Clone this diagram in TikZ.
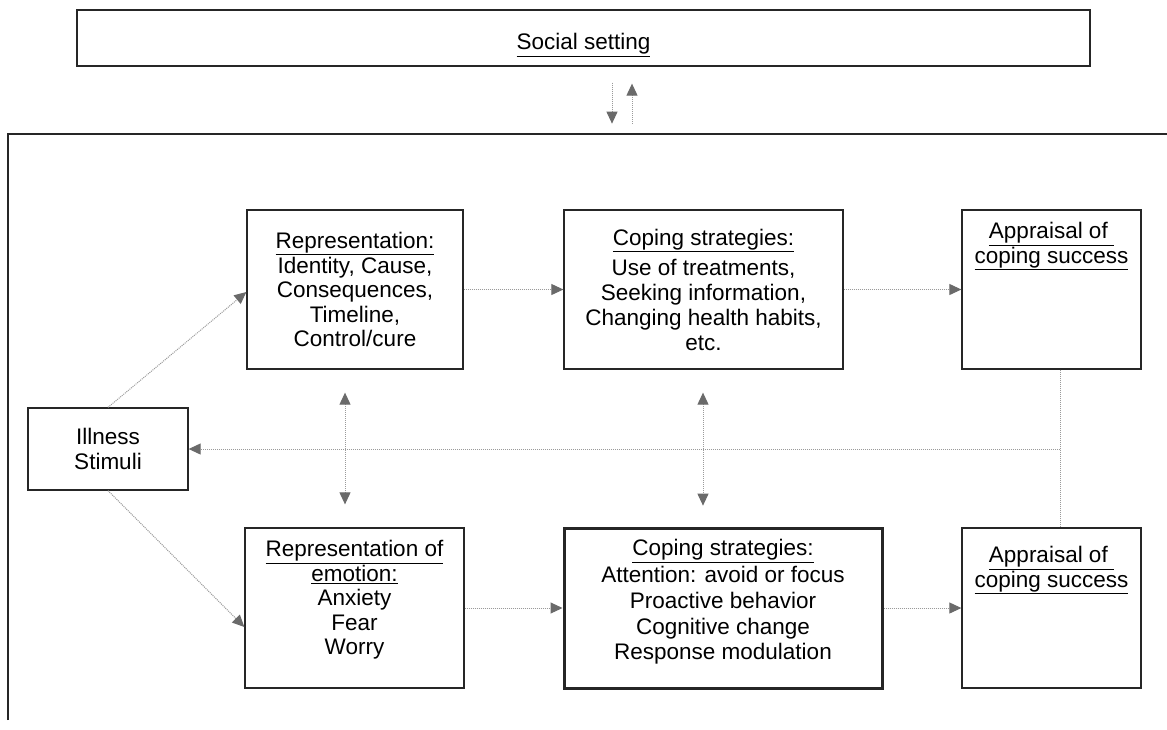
\documentclass[tikz,border=0pt]{standalone}
\usepackage{fontspec}
\setmainfont{Liberation Sans}
\usetikzlibrary{arrows.meta,calc}
\definecolor{arrgray}{HTML}{6A6A6A}
\definecolor{linegray}{HTML}{9A9A9A}
\tikzset{
  box/.style={draw=black!85, line width=1.3pt, inner sep=0pt, align=center, font=\fontsize{22.5}{24.5}\selectfont},
  txt/.style={inner sep=0pt, align=center, font=\fontsize{22.5}{24.5}\selectfont},
  conn/.style={draw=linegray, line width=1pt, dash pattern=on 1pt off 1pt},
  arr/.style={conn, -{Triangle[width=11pt,length=12pt,color=arrgray]}},
  darr/.style={conn, {Triangle[width=11pt,length=12pt,color=arrgray]}-{Triangle[width=11pt,length=12pt,color=arrgray]}},
}
\begin{document}
\begin{tikzpicture}[x=1pt,y=-1pt]
\useasboundingbox (0,0) rectangle (1167,729);
\clip (0,0) rectangle (1167,729);
\fill[white] (0,0) rectangle (1167,729);
% outer frame
\draw[draw=black!85, line width=1.3pt] (8,720) -- (8,134) -- (1250,134);
% social setting
\node[box, minimum width=1013pt, minimum height=56pt] (social) at (583.5,38) {};
\node[txt] (socialt) at (583.5,45) {\underline{Social setting}};
\coordinate (sd1) at ($(social.south)+(28.5,16)$);
\coordinate (sd2) at ($(social.south)+(28.5,57)$);
\coordinate (su1) at ($(social.south)+(48.5,57)$);
\coordinate (su2) at ($(social.south)+(48.5,17)$);
\draw[arr] (sd1) -- (sd2);
\draw[arr] (su1) -- (su2);
% top row
\node[box, minimum width=216pt, minimum height=159pt] (rep) at (355,289.5)
  {\underline{Representation:}\\Identity, Cause,\\Consequences,\\Timeline,\\Control/cure};
\node[box, minimum width=279pt, minimum height=159pt, font=\fontsize{22.5}{25}\selectfont] (cop1) at (703.5,289.5)
  {\underline{Coping strategies:}\\[5pt]Use of treatments,\\Seeking information,\\Changing health habits,\\etc.};
\node[box, minimum width=179pt, minimum height=159pt] (app1) at (1051.5,289.5) {};
\node[txt, anchor=north] (app1t) at ([yshift=-13pt]app1.north) {\underline{Appraisal of\ }\\\underline{coping success}};
% illness
\node[box, minimum width=160pt, minimum height=82pt] (ill) at (108,449) {Illness\\Stimuli};
% bottom row
\node[box, minimum width=219pt, minimum height=160pt] (emo) at (354.5,608) {};
\node[txt] (emot) at (354.5,600)
  {\underline{Representation of}\\\underline{emotion:}\\Anxiety\\Fear\\Worry};
\node[box, minimum width=318pt, minimum height=160pt, line width=3pt] (cop2) at (723,608) {};
\node[txt, font=\fontsize{22.5}{25.7}\selectfont] (cop2t) at (723,602)
  {\underline{Coping strategies:}\\[1pt]Attention: avoid or focus\\Proactive behavior\\Cognitive change\\Response modulation};
\node[box, minimum width=179pt, minimum height=160pt] (app2) at (1051.5,608) {};
\node[txt, anchor=north] (app2t) at ([yshift=-19pt]app2.north) {\underline{Appraisal of\ }\\\underline{coping success}};
% connectors
\draw[arr] (ill.north) -- ($(rep.west)+(0,2.5)$);
\draw[arr] (ill.south) -- ($(emo.west)+(0,19)$);
\draw[arr] (rep.east) -- (cop1.west);
\draw[arr] (cop1.east) -- (app1.west);
\draw[arr] (emo.east) -- (cop2.west);
\draw[arr] (cop2.east) -- (app2.west);
\coordinate (d1a) at ($(rep.south)+(-10,23)$);
\coordinate (d1b) at ($(emo.north)+(-9.5,-23)$);
\coordinate (d2a) at ($(cop1.south)+(-0.5,23)$);
\coordinate (d2b) at ($(cop1.south)+(-0.5,136)$);
\draw[darr] (d1a) -- (d1b);
\draw[darr] (d2a) -- (d2b);
\coordinate (fb) at (1060,449);
\draw[conn] (fb |- app1.south) -- (fb |- app2.north);
\draw[arr] (fb) -- (ill.east);
\end{tikzpicture}
\end{document}
